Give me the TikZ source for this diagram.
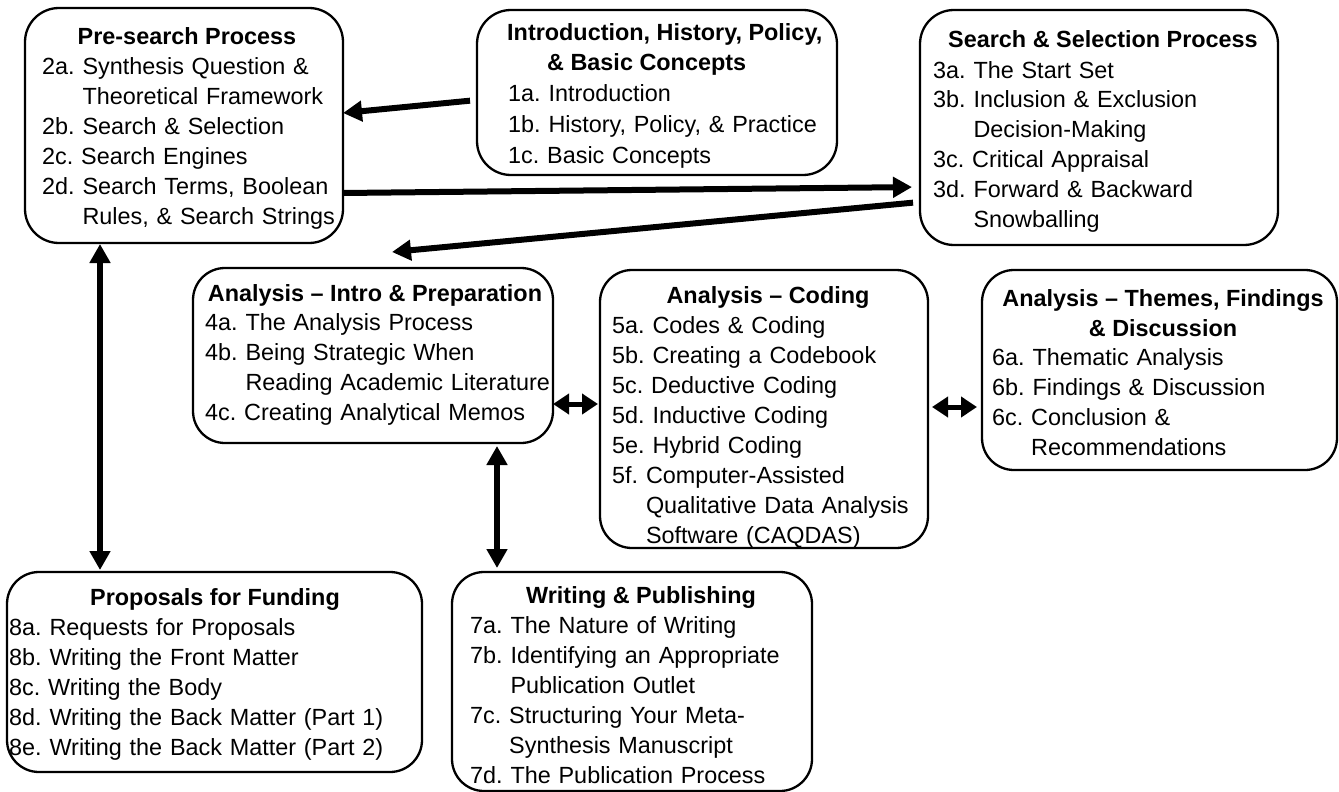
\documentclass[tikz,border=0pt]{standalone}
\usepackage{fontspec}
\setmainfont{Liberation Sans}
\usetikzlibrary{arrows.meta,calc}

% one numbered topic: label, then its text; lines after \\ are hung under the text
\newlength\labw
\newcommand\topic[2]{{%
  \settowidth\labw{#1\ }%
  \def\\{\par\noindent\hspace*{\labw}}%
  \noindent\strut\makebox[\labw][l]{#1\ }#2\par}}

\tikzset{
  panel/.style={draw=black, line width=2.3pt, rounded corners=34pt, inner sep=0pt, outer sep=0pt},
  head/.style={font=\fontsize{23.4}{30}\selectfont\bfseries, inner sep=0pt, anchor=base},
  headblock/.style={font=\fontsize{23.4}{30}\selectfont\bfseries, inner sep=0pt},
  body/.style={font=\fontsize{23.4}{30}\selectfont, inner sep=0pt, anchor=north west, text width=440pt},
  link/.style={line width=6pt, -{Triangle[length=19pt,width=20pt]}},
  twoway/.style={line width=6pt, {Triangle[length=19pt,width=20pt]}-{Triangle[length=19pt,width=20pt]}},
  shortway/.style={line width=5pt, {Triangle[length=16pt,width=20pt]}-{Triangle[length=16pt,width=20pt]}},
}

\begin{document}
\begin{tikzpicture}[x=1pt,y=-1pt]
\useasboundingbox (0,0) rectangle (1339,792);

% ---------- panels ----------
\node[panel, minimum width=318pt, minimum height=235pt] (b2) at (184,125.5) {};
\node[panel, minimum width=360pt, minimum height=165pt] (b1) at (657,92.5) {};
\node[panel, minimum width=358pt, minimum height=235pt] (b3) at (1099,127.5) {};
\node[panel, minimum width=360pt, minimum height=175pt, rounded corners=32pt] (b4) at (373,355.5) {};
\node[panel, minimum width=328pt, minimum height=278pt, rounded corners=32pt] (b5) at (764,409) {};
\node[panel, minimum width=355pt, minimum height=200pt, rounded corners=32pt] (b6) at (1159.5,370) {};
\node[panel, minimum width=415pt, minimum height=200pt, rounded corners=32pt] (b8) at (214.5,672) {};
\node[panel, minimum width=360pt, minimum height=219pt, rounded corners=32pt] (b7) at (632,681.5) {};

% ---------- Pre-search Process ----------
\node[head] (b2h) at (187,45) {Pre-search Process};
\node[body] (b2b) at (42,53) {%
  \topic{2a.}{Synthesis Question \&\\Theoretical Framework}
  \topic{2b.}{Search \& Selection}
  \topic{2c.}{Search Engines}
  \topic{2d.}{Search Terms, Boolean\\Rules, \& Search Strings}};

% ---------- Introduction ----------
\node[headblock, anchor=north west, align=left] (b1h) at (507,19)
  {\strut Introduction, History, Policy,\\\hspace*{40pt}\& Basic Concepts};
\node[body, font=\fontsize{23.4}{31}\selectfont] (b1b) at (508,79.3) {%
  \topic{1a.}{Introduction}
  \topic{1b.}{History, Policy, \& Practice}
  \topic{1c.}{Basic Concepts}};

% ---------- Search & Selection Process ----------
\node[head] (b3h) at (1103,48) {Search \& Selection Process};
\node[body, font=\fontsize{23.4}{29.8}\selectfont] (b3b) at (933,57.1) {%
  \topic{3a.}{The Start Set}
  \topic{3b.}{Inclusion \& Exclusion\\Decision-Making}
  \topic{3c.}{Critical Appraisal}
  \topic{3d.}{Forward \& Backward\\Snowballing}};

% ---------- Analysis: intro ----------
\node[head] (b4h) at (375,301) {Analysis – Intro \& Preparation};
\node[body] (b4b) at (205,309) {%
  \topic{4a.}{The Analysis Process}
  \topic{4b.}{Being Strategic When\\Reading Academic Literature}
  \topic{4c.}{Creating Analytical Memos}};

% ---------- Analysis: coding ----------
\node[head] (b5h) at (768,303) {Analysis – Coding};
\node[body] (b5b) at (612,312) {%
  \topic{5a.}{Codes \& Coding}
  \topic{5b.}{Creating a Codebook}
  \topic{5c.}{Deductive Coding}
  \topic{5d.}{Inductive Coding}
  \topic{5e.}{Hybrid Coding}
  \topic{5f.}{Computer-Assisted\\Qualitative Data Analysis\\Software (CAQDAS)}};

% ---------- Analysis: themes ----------
\node[headblock, anchor=north, align=center] (b6h) at (1163,285)
  {\strut Analysis – Themes, Findings\\\& Discussion};
\node[body] (b6b) at (992,344) {%
  \topic{6a.}{Thematic Analysis}
  \topic{6b.}{Findings \& Discussion}
  \topic{6c.}{Conclusion \&\\Recommendations}};

% ---------- Proposals ----------
\node[head] (b8h) at (215,605) {Proposals for Funding};
\node[body] (b8b) at (9,614) {%
  \topic{8a.}{Requests for Proposals}
  \topic{8b.}{Writing the Front Matter}
  \topic{8c.}{Writing the Body}
  \topic{8d.}{Writing the Back Matter (Part 1)}
  \topic{8e.}{Writing the Back Matter (Part 2)}};

% ---------- Writing ----------
\node[head] (b7h) at (641,603) {Writing \& Publishing};
\node[body] (b7b) at (470,612) {%
  \topic{7a.}{The Nature of Writing}
  \topic{7b.}{Identifying an Appropriate\\Publication Outlet}
  \topic{7c.}{Structuring Your Meta-\\Synthesis Manuscript}
  \topic{7d.}{The Publication Process}};

% ---------- connectors ----------
\coordinate (a3end) at (392,252);
\draw[link, shorten <=7pt] (b1.west |- 0,100) -- (b2.east |- 0,113);
\draw[link, shorten >=8pt] (b2.east |- 0,193) -- (b3.west |- 0,187);
\draw[link, shorten <=7pt] (b3.west |- 0,202) -- (a3end);
\draw[twoway, shorten <=1pt, shorten >=2pt] (b2.south -| 100,0) -- (b8.north -| 100,0);
\draw[twoway, shorten <=3pt, shorten >=4pt] (b4.south -| 497,0) -- (b7.north -| 497,0);
\draw[shortway, shorten >=2pt] (b4.east |- 0,404) -- (b5.west |- 0,404);
\draw[shortway, shorten <=4pt, shorten >=5pt] (b5.east |- 0,407) -- (b6.west |- 0,407);
\end{tikzpicture}
\end{document}
